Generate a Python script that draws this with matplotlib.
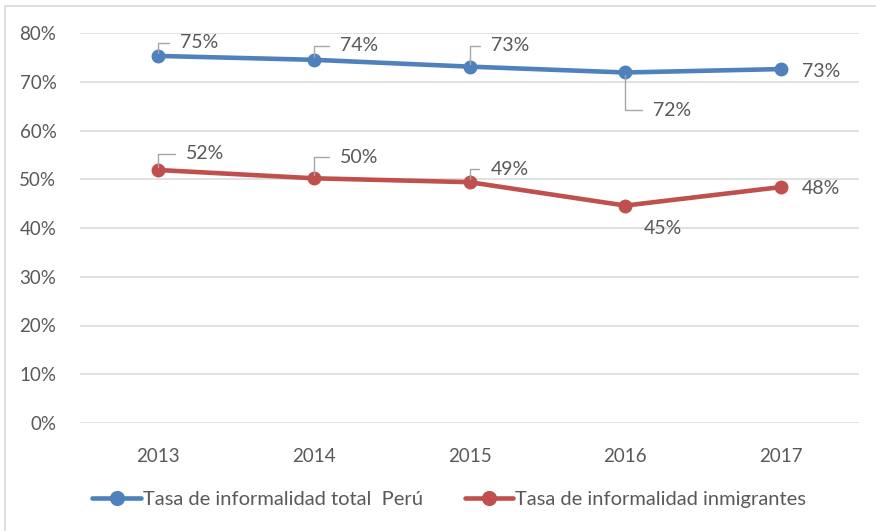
"""Tasa de informalidad: total Peru vs inmigrantes, 2013-2017."""

import matplotlib
matplotlib.use("Agg")
import matplotlib.pyplot as plt
from matplotlib.patches import Rectangle
from matplotlib.ticker import PercentFormatter

plt.rcParams["font.family"] = ["Lato", "DejaVu Sans"]

years = ["2013", "2014", "2015", "2016", "2017"]
peru_total = [75.3, 74.5, 73.1, 71.9, 72.6]
inmigrantes = [51.9, 50.2, 49.4, 44.6, 48.4]
series_names = ["Tasa de informalidad total  Perú", "Tasa de informalidad inmigrantes"]
y_ticks = [0, 10, 20, 30, 40, 50, 60, 70, 80]

# label offsets in pixels (dx, dy) and whether a leader line is drawn
peru_label_pos = [(22, 13, True), (26, 14, True), (22, 21, True), (28, -38, True), (21, -2, False)]
inmig_label_pos = [(28, 16, True), (26, 21, True), (21, 13, True), (18, -23, False), (21, -1, False)]

BLUE = "#4F81BD"
RED = "#C0504D"
TEXT = "#595959"
GRID = "#D9D9D9"
LEADER = "#A6A6A6"

fig = plt.figure(figsize=(8.76, 5.31), dpi=100)
ax = fig.add_axes([80 / 876, 108 / 531, 779 / 876, 390 / 531])

x = list(range(len(years)))
ax.plot(x, peru_total, color=BLUE, lw=3.3, marker="o", ms=9, label=series_names[0],
        solid_capstyle="round", zorder=3)
ax.plot(x, inmigrantes, color=RED, lw=3.3, marker="o", ms=9, label=series_names[1],
        solid_capstyle="round", zorder=3)

ax.set_xlim(-0.5, len(years) - 0.5)
ax.set_ylim(0, 80)
ax.set_yticks(y_ticks)
ax.yaxis.set_major_formatter(PercentFormatter(decimals=0))
ax.set_xticks(x)
ax.set_xticklabels(years)
ax.tick_params(axis="both", length=0, labelsize=13.5, labelcolor=TEXT)
ax.tick_params(axis="y", pad=17)
ax.tick_params(axis="x", pad=18)
ax.grid(axis="y", color=GRID, lw=1.1)
ax.set_axisbelow(True)
for s in ax.spines.values():
    s.set_visible(False)


def add_labels(values, positions):
    for i, (v, (dx, dy, leader)) in enumerate(zip(values, positions)):
        props = None
        if leader:
            angle_b = 90 if dy > 0 else -90
            props = dict(arrowstyle="-", color=LEADER, lw=1.0, shrinkA=6, shrinkB=2,
                         relpos=(0, 0.5),
                         connectionstyle=f"angle,angleA=0,angleB={angle_b},rad=0")
        ax.annotate(f"{round(v)}%", xy=(i, v), xytext=(dx, dy), textcoords="offset pixels",
                    ha="left", va="center", fontsize=14, color=TEXT, arrowprops=props)


add_labels(peru_total, peru_label_pos)
add_labels(inmigrantes, inmig_label_pos)

fig.legend(loc="center", bbox_to_anchor=(0.513, 0.06), ncol=2, frameon=False,
           fontsize=14.5, labelcolor=TEXT, handlelength=2.4, handletextpad=0.1,
           columnspacing=2.1, markerscale=1.1)

# light outer frame of the chart area
fig.patches.append(Rectangle((5 / 876, -0.1), 1.0, 1.1 - 6 / 531, transform=fig.transFigure,
                             fill=False, edgecolor=GRID, lw=1.2))

fig.savefig("out.png", dpi=100)
